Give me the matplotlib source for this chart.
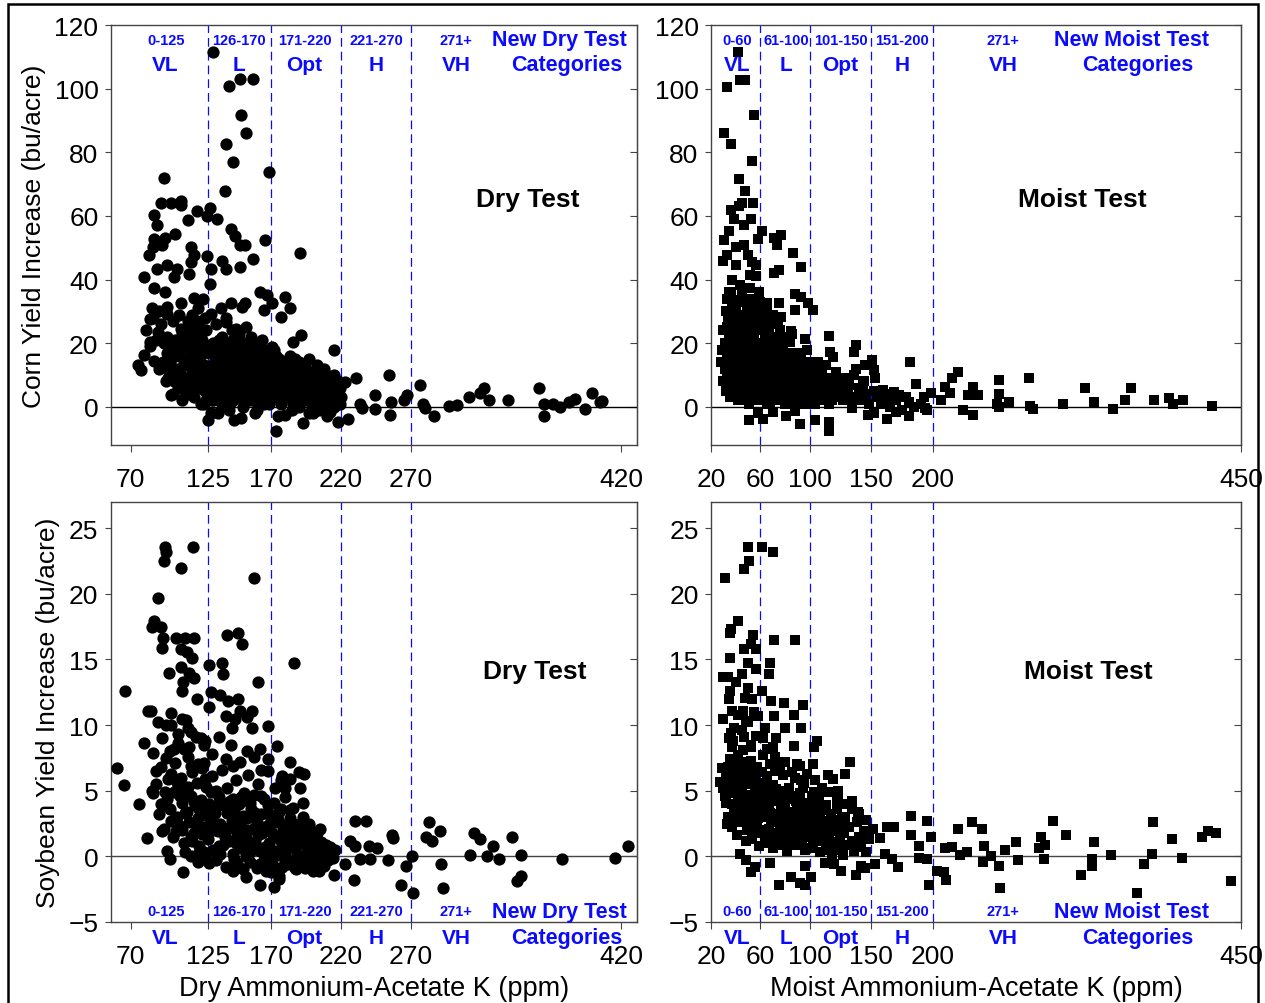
import matplotlib
matplotlib.use("Agg")
import matplotlib.pyplot as plt
import matplotlib.patches as mpatches

plt.rcParams['font.family'] = ['Liberation Sans', 'DejaVu Sans']

# ---- data: (soil K ppm, yield increase bu/acre) ----
dry_corn = [
    (129, 111.4), (140, 100.7), (148, 103), (157, 103), (149, 91.7), (152, 86), (138, 82.5),
    (143, 77), (168.6, 73.7), (137, 67.9), (94, 71.8), (92, 64.1), (99, 64.1), (105.7, 64.7),
    (106, 63.3), (86.5, 60.4), (111, 58.6), (117, 61.5), (126.5, 62.4), (124.5, 60.1),
    (131.5, 58.9), (101.6, 54.3), (88.8, 57), (87, 52.8), (94.4, 53), (92.3, 50.7), (86, 50.2),
    (141.6, 56), (144.5, 53.7), (148, 50.7), (151.8, 50.9), (166, 52.4), (190.6, 48.4),
    (157, 46.5), (83.3, 47.8), (113.3, 50.2), (115.5, 47.8), (113.3, 45.5), (124.8, 47.3),
    (79.9, 40.7), (88.6, 43.4), (95.8, 44.5), (103, 43.4), (101, 40.7), (112, 41.7),
    (126.5, 38.6), (127.6, 43.4), (134.9, 45.9), (138, 43.4), (148, 43.8), (87, 37.3),
    (94.4, 36.1), (85.5, 30.9), (95.8, 31.4), (106, 32.7), (115.5, 34.2), (121.3, 33.8),
    (118.3, 30.9), (134.4, 30.9), (141.6, 32.7), (149.7, 31.4), (151.8, 32.7), (162.5, 36.1),
    (167, 35), (164.8, 30.3), (171, 32.7), (180, 34.5), (183.6, 30.9), (177, 28.2), (84, 27.7),
    (95.8, 29.3), (104.5, 28.8), (127.6, 29.3), (89.4, 23.5), (84, 20.4), (106, 24.6),
    (117, 26.2), (119, 20.4), (138, 26.7), (145, 24.6), (191.5, 22.5), (186, 20.4), (171, 18.8),
    (215.3, 17.9), (79.9, 16.4), (75.5, 13.1), (77.5, 11.5), (87, 14.3), (97.3, 15.2),
    (96.7, 8.9), (99, 3.7), (106.5, 2.1), (120.4, 1), (125.4, -4.2), (132.6, -2.1),
    (143.6, -4.2), (148.6, -3.5), (158.7, -2.1), (174, -7.6), (180, -2.6), (193, -5.2),
    (197.3, -2.1), (204.5, -1), (212.4, -1.6), (217.6, -4.7), (222.8, 7.8), (224.8, -3.7),
    (230.6, 8.9), (233.5, 1), (235, -0.5), (244.3, 3.7), (244.3, -0.7), (254.4, 9.9),
    (255.9, 1.6), (255.3, -2.6), (264.8, 2.1), (266.9, 3.7), (276.4, 6.8), (278.5, 1),
    (280, -0.5), (286.6, -2.8), (296.7, 0.3), (302.8, 0.5), (311, 3), (319, 4.2), (322, 5.8),
    (325.4, 2.1), (338.8, 2.1), (361, 5.8), (364.8, 1), (364.8, -2.8), (371.2, 1), (376.4, 0),
    (382.9, 1.4), (387.2, 2.3), (393.9, -0.7), (398.8, 4.2), (406, 1.8), (404.6, 1.4),
    (98, 9), (101, 8), (103, 12), (104, 6), (106, 10), (108, 14), (109, 5), (110, 19), (111, 22),
    (112, 8), (113, 25), (114, 12), (115, 3), (116, 18), (117, 27), (118, 10), (119, 15),
    (120, 6), (121, 21), (122, 13), (123, 9), (124, 24), (124, 2), (126, 17), (127, 11),
    (128, 5), (129, 20), (130, 14), (130, 8), (131, 26), (132, 3), (133, 12), (134, 18),
    (135, 7), (135, 22), (136, 10), (137, 15), (138, 4), (138, 28), (139, 9), (140, 13),
    (140, 19), (141, 6), (142, 11), (142, 24), (143, 2), (144, 16), (144, 8), (145, 21),
    (146, 12), (146, 5), (147, 18), (148, 10), (148, 14), (149, 3), (150, 7), (150, 20),
    (151, 16), (152, 11), (152, 25), (153, 6), (154, 13), (154, 9), (155, 18), (156, 4),
    (156, 22), (157, 12), (158, 8), (158, 15), (159, 19), (160, 6), (160, 10), (161, 14),
    (162, 3), (162, 17), (163, 11), (164, 7), (164, 21), (165, 13), (166, 9), (166, 5),
    (167, 16), (168, 12), (168, 2), (169, 8), (170, 14), (171, 6), (172, 10), (172, 18),
    (173, 3), (174, 12), (175, 7), (176, 15), (177, 1), (178, 9), (179, 5), (180, 11),
    (181, 13), (182, 3), (183, 7), (184, 16), (185, 9), (186, 1), (187, 12), (188, 5),
    (189, 8), (190, 14), (191, 3), (192, 10), (193, 6), (194, 2), (195, 12), (196, 8),
    (197, 4), (198, 10), (199, 1), (200, 6), (201, 11), (202, 3), (203, 8), (204, 0),
    (205, 5), (206, 9), (207, 2), (208, 12), (209, 6), (210, 1), (211, 4), (212, 9), (213, 3),
    (214, 7), (215, 0), (216, 5), (217, 2), (218, 8), (219, 1), (220, 3),
    (92, 26), (94, 20), (96, 17), (97, 12), (99, 19), (100, 4), (102, 16), (105, 7), (107, 23),
    (110, 13), (112, 4), (114, 29), (116, 9), (118, 23), (120, 17), (122, 1), (100, 27),
    (95, 8), (90, 12), (93, 14), (88, 21), (86, 28), (90, 30), (84, 19), (81, 24),
    (127, -2), (135, 1), (140, -1), (150, 0), (155, 2), (160, -1), (165, 1), (175, -3),
    (185, -1), (190, 0), (200, -2), (210, -3), (128, 2), (133, 6), (139, 2), (145, 9),
    (151, 4), (157, 7), (163, 2), (169, 4), (176, 10), (182, 8), (188, 2), (194, 9),
    (126, 7), (128, 13), (129, 2), (131, 17), (132, 9), (133, 21), (134, 4), (136, 14),
    (137, 6), (138, 19), (139, 12), (141, 1), (141, 16), (143, 9), (143, 21), (145, 4),
    (145, 14), (147, 7), (147, 23), (149, 12), (149, 17), (151, 2), (151, 9), (153, 15),
    (153, 20), (155, 7), (155, 11), (157, 2), (157, 17), (159, 10), (159, 14), (161, 6),
    (161, 20), (163, 8), (163, 15), (165, 3), (165, 18), (167, 11), (167, 6), (169, 17),
    (169, 1), (171, 12), (173, 8), (174, 16), (176, 4), (177, 11), (179, 14), (181, 6),
    (183, 10), (185, 4), (187, 15), (189, 2), (191, 11), (193, 9), (195, 4), (197, 15),
    (199, 7), (201, 2), (203, 13), (205, 1), (207, 7), (209, 10), (211, 6), (213, 0),
    (215, 10), (217, 4), (219, 6), (96, 22), (98, 14), (100, 10), (102, 21), (104, 18),
    (106, 16), (108, 8), (108, 20), (110, 9), (111, 27), (112, 15), (113, 18), (115, 21),
    (116, 6), (117, 14), (119, 11), (119, 25), (121, 9), (122, 17), (123, 5), (123, 28),
    (125, 19), (125, 11),
]

moist_corn = [
    (41.9, 111.4), (32.6, 100.6), (43.5, 102.8), (47.5, 102.8), (54.8, 91.7), (30.6, 86),
    (35.9, 82.5), (53.5, 77.1), (42.5, 71.7), (47.8, 67.7), (36.2, 62), (42.9, 63.1),
    (45.2, 64.1), (54.1, 63.9), (38.5, 59.1), (46.8, 57.2), (52.5, 59.1), (34.2, 55.2),
    (30.9, 52.3), (40.2, 50.2), (46.8, 50.7), (57.8, 52.8), (61.7, 55.4), (70.7, 53),
    (76.6, 54.1), (73.3, 50.7), (86.6, 48.4), (29.6, 45.7), (32.9, 47.6), (40.2, 44.5),
    (49.9, 47.6), (53.2, 45.5), (56.5, 44.5), (71.4, 42), (74.8, 42.9), (93.2, 43.8),
    (51.8, 41.3), (56.5, 41.1), (43.5, 38.2), (51.8, 37.3), (34.6, 36.1), (58.8, 36.1),
    (32.6, 34), (41.9, 33.5), (88.2, 35.4), (93.2, 34.5), (38.5, 31.4), (65, 32.7),
    (75.3, 32.7), (98.8, 32.7), (103.1, 30.5), (88.2, 30.5), (65, 30.3), (76.6, 28.2),
    (35.2, 25.1), (84.9, 23.7), (34.6, 20.9), (115.4, 22.3), (95.9, 21.4), (84.3, 20.4),
    (137.9, 19.4), (135.6, 17.3), (32.6, 13.1), (37.6, 17.3), (116.4, 17.3), (119, 15.7),
    (150.8, 14.6), (181, 14.1), (145.2, 13.1), (137.3, 12), (151.8, 11.5), (105.5, 12.6),
    (186, 7.3), (142.9, 7.3), (152.8, 8.9), (159.4, 5.2), (168.7, 4.5), (172.7, 3.7),
    (162.8, 2.6), (180.3, 1.6), (192.6, 3.1), (198.5, 4.2), (206.5, 2.1), (215.8, 8.9),
    (220, 11), (213.8, 4.2), (209.8, 6.3), (228.3, 3.7), (232.3, 6.3), (236.6, 3.7),
    (224.7, -1), (232.3, -2.6), (253.2, 8.4), (253.2, 3.9), (252.2, 1), (253.9, -0.2),
    (261.5, 1.6), (277.7, 8.9), (278.7, 0.3), (281.4, -0.8), (305.2, 1), (323.4, 5.8),
    (331, 1.6), (345.9, -0.8), (355.5, 2), (360.8, 5.8), (379.1, 2.1), (391.3, 2.8),
    (394.6, 1), (402.9, 2), (426.4, 0.3), (50.5, -4.2), (62.4, -3.9), (57.8, -2.1),
    (70, -1.6), (80.9, -2.8), (92.2, -5.5), (88.2, -1.4), (104.1, -4.2), (115.4, -4.7),
    (115.4, -7.6), (115.7, 1), (134.6, -0.3), (147.2, -2.6), (151.8, -2.1), (162.4, -3.7),
    (170, -1.6), (180.6, -2.8), (193.2, -0.5),
    (28, 14), (30, 8), (31, 20), (32, 5), (33, 25), (34, 11), (35, 17), (35, 3), (36, 28),
    (37, 9), (38, 14), (38, 22), (39, 6), (40, 18), (40, 31), (41, 12), (42, 2), (42, 24),
    (43, 16), (44, 8), (44, 27), (45, 13), (46, 20), (46, 4), (47, 10), (48, 17), (48, 29),
    (49, 7), (50, 23), (50, 13), (51, 1), (52, 19), (52, 9), (53, 26), (54, 15), (54, 5),
    (55, 21), (56, 11), (56, 30), (57, 7), (58, 17), (58, 24), (59, 3), (60, 13), (60, 20),
    (61, 9), (62, 27), (62, 16), (63, 5), (64, 22), (64, 11), (65, 1), (66, 18), (66, 8),
    (67, 25), (68, 14), (68, 4), (69, 20), (70, 10), (70, 29), (71, 15), (72, 6), (72, 22),
    (73, 12), (74, 2), (74, 18), (75, 8), (76, 14), (76, 24), (77, 4), (78, 11), (78, 19),
    (79, 7), (80, 15), (80, 1), (81, 10), (82, 21), (82, 5), (83, 13), (84, 8), (84, 17),
    (85, 3), (86, 11), (86, 23), (87, 6), (88, 14), (88, 0), (89, 9), (90, 4), (90, 17),
    (91, 12), (92, 2), (92, 8), (93, 15), (94, 5), (95, 10), (96, 1), (96, 13), (97, 7),
    (98, 18), (99, 3), (100, 9), (100, 14), (102, 5), (103, 11), (104, 1), (105, 7), (106, 3),
    (107, 14), (108, 9), (109, 5), (110, 11), (111, 2), (112, 7), (113, 13), (114, 4),
    (116, 9), (118, 2), (119, 6), (121, 11), (122, 3), (124, 8), (126, 5), (127, 2), (129, 9),
    (131, 4), (132, 7), (134, 1), (136, 10), (138, 3), (140, 6), (142, 2), (144, 8), (146, 4),
    (148, 1), (152, 5), (155, 3), (158, 1), (160, 4), (165, 0), (170, 2), (175, -1), (178, 3),
    (185, 0), (190, 1), (195, -1), (45, 35), (49, 32), (55, 27), (60, 33), (66, 24), (37, 40),
    (29, 18), (31, 12), (33, 16), (34, 28), (36, 21), (36, 7), (37, 33), (38, 4), (39, 17),
    (39, 26), (41, 9), (41, 20), (43, 5), (43, 29), (44, 18), (45, 2), (45, 24), (47, 15),
    (47, 34), (48, 5), (49, 21), (49, 12), (50, 30), (51, 8), (51, 17), (53, 3), (53, 14),
    (54, 22), (55, 10), (55, 31), (57, 18), (57, 2), (58, 12), (59, 27), (59, 8), (60, 3),
    (61, 16), (61, 24), (63, 10), (63, 19), (64, 29), (65, 6), (65, 15), (67, 10), (67, 20),
    (68, 1), (69, 13), (69, 26), (71, 4), (71, 19), (73, 8), (73, 16), (75, 3), (75, 12),
    (76, 20), (78, 7), (79, 16), (81, 3), (82, 13), (83, 9), (85, 15), (87, 10), (89, 3),
    (91, 6), (93, 11), (95, 3), (97, 12), (99, 6), (101, 10), (103, 4),
    (30, 24), (32, 30), (33, 9), (34, 19), (35, 13), (36, 36), (37, 24), (38, 10), (39, 30),
    (40, 4), (40, 24), (41, 16), (42, 33), (42, 8), (43, 21), (44, 13), (45, 29), (45, 7),
    (46, 16), (47, 25), (48, 11), (49, 3), (50, 18), (51, 27), (52, 13), (52, 34), (53, 7),
    (54, 19), (55, 4), (56, 16), (56, 25), (57, 12), (58, 31), (59, 20), (60, 9), (61, 29),
    (62, 4), (63, 14), (64, 25), (65, 10), (66, 28), (67, 15), (68, 22), (70, 6), (72, 13),
    (74, 26), (76, 9), (78, 22), (80, 6), (84, 12),
]

dry_soy = [
    (60.4, 6.7), (65.4, 5.4), (66.2, 12.6), (76.1, 4), (79.9, 8.6), (81.9, 1.4), (82.2, 11.1),
    (84.8, 11.1), (85.1, 17.5), (86.5, 17.9), (89.4, 19.7), (91.5, 17.5), (92.3, 15.9),
    (92.9, 16.6), (94.4, 23.6), (95, 23.2), (93.8, 22.5), (105.9, 22), (114.7, 23.6),
    (102.2, 16.6), (108.9, 16.6), (115.5, 16.6), (105.9, 15.8), (110.3, 15.6), (114, 15.1),
    (97.3, 14), (105.9, 14.4), (111.7, 14), (115.5, 13.6), (107.1, 13.3), (106.8, 12.6),
    (125.7, 14.6), (135.2, 14.7), (136.1, 13.9), (117.5, 12), (126.2, 11.4), (127.6, 12.5),
    (133.5, 12.3), (139.3, 11.8), (137.8, 10.7), (142.1, 9.8), (141.6, 8.5), (139, 16.9),
    (146.8, 17), (149.2, 16.2), (158.1, 21.2), (160.5, 13.3), (186.8, 14.7), (146.5, 12),
    (148, 11.1), (144.5, 10.5), (153.2, 10.6), (156.7, 11.1), (156.7, 9.8), (162.5, 8.2),
    (167.7, 9.9), (174.1, 8.4), (168, 7.4), (183.6, 7.2), (89.4, 10.2), (92.3, 9), (98.7, 10.9),
    (95.3, 10), (98.7, 10), (104, 9.3), (100.8, 8.2), (106.8, 10.5), (109.8, 10.4), (111, 9.8),
    (111.9, 8.3), (119.9, 9), (116.7, 9.1), (122, 8.5), (113.2, 6.9), (122.6, 7.1),
    (85.7, 7.9), (87.8, 6.5), (85.1, 5), (85.7, 4.8), (91.5, 4), (93.9, 3.9), (94.7, 4.9),
    (98.7, 2.7), (102.2, 1.9), (92.3, 1.9), (95.8, 0.4), (97.9, -0.2), (107.4, -1.2),
    (108.9, 0.3), (113.8, 1.2), (113.2, 0), (118.1, 0.2), (123.4, 0), (190, 6.4),
    (193.8, 6.3), (190.9, 5.2), (183.4, 5.9), (177, 5.8), (179.9, 5.2), (192.7, 4.1),
    (183.4, 3.5), (197.3, 2.5), (205.4, 2.1), (208.9, 0.9), (214.7, -1.4), (204.5, -1.1),
    (222.8, -0.6), (226.3, 1.2), (229.7, 2.7), (237.9, 2.7), (230, 0.8), (229.2, -1.8),
    (233.8, -0.2), (240.2, 0.8), (240.8, -0.2), (246, 0.6), (253.8, -0.3), (256.2, 1.6),
    (257, 1.4), (266.3, -0.7), (263.1, -2.2), (270.9, 0), (271.5, -2.8), (280.5, 1.5),
    (282.8, 2.6), (284.9, 1.2), (290.6, 1.9), (291.5, -0.6), (293, -2.4), (311.8, 0.1),
    (314.7, 1.8), (319.1, 1.3), (324.3, 0), (328.3, 0.8), (333, -0.2), (341.7, 1.5),
    (345.2, -1.9), (348.6, -1.5), (348, 0.1), (377.9, -0.2), (415.3, -0.1), (424.3, 0.8),
    (152.3, -1.6), (162.5, -2.2), (166.8, -1.1), (172.6, -2.3), (175.5, -1.7), (143.1, -1.1),
    (88, 5.5), (90, 3.2), (92, 6.8), (94, 2.1), (95, 7.5), (96, 4.4), (97, 5.9), (98, 3.6),
    (99, 6.3), (100, 1.5), (101, 4.9), (102, 7.1), (103, 3.0), (104, 5.4), (105, 2.3),
    (106, 6.0), (107, 4.1), (108, 1.0), (109, 5.1), (110, 3.4), (111, 7.6), (112, 2.6),
    (113, 4.6), (114, 6.4), (115, 1.8), (116, 3.9), (117, 5.6), (118, 2.9), (119, 0.8),
    (120, 4.3), (121, 6.7), (122, 2.2), (123, 3.7), (124, 5.3), (125, 1.3), (126, 4.0),
    (127, 2.8), (128, 6.1), (129, 0.5), (130, 3.3), (131, 5.0), (132, 1.9), (133, 4.5),
    (134, 2.5), (135, 6.6), (136, 0.9), (137, 3.8), (138, 2.0), (139, 5.2), (140, 1.2),
    (141, 4.2), (142, 2.7), (143, 0.2), (144, 3.5), (145, 5.8), (146, 1.6), (147, 4.0),
    (148, 2.4), (149, 0.6), (150, 3.1), (151, 4.8), (152, 1.4), (153, 2.9), (154, 6.2),
    (155, 0.3), (156, 3.6), (157, 2.1), (158, 4.7), (159, 1.1), (160, 2.6), (161, 5.5),
    (162, 0.4), (163, 3.2), (164, 1.8), (165, 4.4), (166, 0.7), (167, 2.3), (168, 3.9),
    (169, 1.0), (170, 2.8), (171, -0.6), (172, 4.1), (173, 1.5), (174, 2.6), (175, 0.1),
    (176, 3.4), (177, 1.2), (178, -0.8), (179, 2.0), (180, 4.5), (181, 0.5), (182, 1.7),
    (183, -0.3), (184, 2.9), (185, 0.9), (186, 3.7), (187, -0.9), (188, 1.9), (189, 0.2),
    (190, 2.5), (191, -0.5), (192, 1.3), (193, 3.0), (194, 0.0), (195, 1.6), (196, -0.7),
    (197, 2.2), (198, 0.6), (199, -0.2), (200, 1.4), (201, 0.3), (202, -0.9), (203, 1.8),
    (204, 0.4), (205, -0.4), (206, 1.1), (207, 0.0), (208, -0.7), (209, 0.9), (210, 0.2),
    (211, -0.3), (212, 0.7), (214, -0.1), (216, 0.5), (126, -0.5), (131, -0.3), (138, -0.8),
    (144, -0.2), (150, -1.0), (155, -0.4), (160, -0.9), (165, -0.3), (170, -1.2), (176, -1.5),
    (182, -0.6), (188, -1.0), (194, -0.9), (200, -1.1), (108, 8.2), (113, 9.5), (118, 7.0),
    (123, 8.8), (128, 7.8), (133, 9.1), (138, 7.4), (143, 6.9), (148, 7.2), (153, 8.0),
    (158, 7.6), (163, 6.6), (168, 6.5), (173, 5.2), (178, 6.1), (98, 8.0), (104, 8.6),
    (101, 2.8), (103, 5.7), (105, 4.6), (107, 2.0), (109, 3.3), (111, 5.3), (113, 1.5),
    (115, 4.2), (117, 2.3), (119, 3.6), (121, 1.7), (123, 5.9), (125, 3.1), (127, 4.9),
    (129, 2.0), (131, 3.8), (133, 0.8), (135, 4.1), (137, 1.5), (139, 3.3), (141, 2.2),
    (143, 4.4), (145, 1.0), (147, 2.9), (149, 4.5), (151, 0.9), (153, 2.0), (155, 4.1),
    (157, 0.7), (159, 3.3), (161, 1.6), (163, 4.6), (165, 2.0), (167, 0.2), (169, 3.2),
    (171, 1.8), (173, 0.4), (175, 2.8), (177, 3.6), (179, 0.6), (181, 2.4), (183, 1.2),
    (185, 2.2), (187, 0.8), (189, 1.4), (191, 2.0), (193, -0.3), (195, 0.8), (197, 1.2),
    (199, 0.6), (201, -0.6), (203, 0.2), (118, -0.4), (122, 0.3), (134, 0.2), (146, -0.5),
    (152, 0.0), (162, -0.6), (168, -0.1), (174, -0.9), (180, -0.2), (186, -0.4), (192, -0.2),
    (198, -0.6),
]

moist_soy = [
    (31.3, 21.2), (50.1, 23.6), (51.1, 22.5), (46.8, 21.9), (61.7, 23.6), (70, 23.2),
    (41.9, 17.9), (36.2, 17.3), (35.2, 17), (54.1, 16.9), (70.7, 16.5), (88.2, 16.5),
    (46.8, 15.8), (52.8, 16.2), (56.8, 15.8), (35.2, 15.1), (50.1, 14.7), (67.7, 14.7),
    (66.7, 13.9), (56.8, 14.3), (29.3, 13.7), (33.6, 13.7), (45.2, 13.9), (40.2, 13.3),
    (35.2, 12.6), (34.6, 12), (50.1, 12.8), (61.7, 12.6), (47.5, 12.1), (53.2, 12),
    (68.3, 11.8), (79.3, 11.7), (94.9, 11.5), (29.6, 10.5), (36.9, 11.1), (46.2, 11.1),
    (57.8, 10.7), (70.7, 10.7), (87.2, 10.8), (38.5, 9.8), (50.1, 10.2), (63.4, 9.8), (80, 9.8),
    (93.2, 9.8), (34.9, 9), (46.8, 9.1), (56.1, 9.2), (72.7, 9), (106.1, 8.8), (103.8, 8.3),
    (36.9, 8.3), (52.8, 8.3), (70, 8.3), (86.9, 8.4), (41.6, 7.7), (28.6, 6.7), (33.6, 6.8),
    (27, 5.7), (133, 7.2), (103.1, 7), (89.9, 7), (114.7, 6.2), (119, 5.9), (128.6, 6.3),
    (123, 5), (134.6, 4.2), (139.3, 3.4), (123, 4.2), (103.4, 4.9), (107.4, 4.5), (93.2, 5.8),
    (94.9, 5.2), (43.5, 0.2), (48.4, -0.3), (52.8, -1.2), (55.8, -0.8), (67.7, -0.5),
    (75, -2.2), (84.9, -1.6), (92.5, -2), (96.5, -2.2), (95.9, -0.7), (100.8, -1.6),
    (112.4, -0.5), (120, -0.6), (125.6, -1.1), (137.6, -1.4), (141.9, -0.7), (145.2, -0.9),
    (152.8, -0.6), (171.8, -0.8), (151.2, 2.1), (162.8, 2.2), (168.7, 2.2), (157.2, 1.4),
    (161.5, 0.2), (166.4, -0.2), (182.3, 3.1), (182.3, 1.6), (188.9, 0.8), (195.5, 2.7),
    (198.8, 1.5), (197.2, -2.2), (188.9, -0.1), (195.5, -0.2), (203.2, -1.1), (209.1, -1.2),
    (210.8, -1.8), (209.8, 0.6), (215.8, 0.7), (220.7, 2.1), (221.7, 0.1), (227.4, 0.3),
    (231.7, 2.6), (239.6, 2.1), (241.6, 0.8), (240.6, -0.4), (247.2, 0), (253.9, -0.7),
    (254.6, -2.4), (258.8, 0.5), (267.1, 1.1), (268.8, -0.3), (286.3, 0.6), (287.9, 1.5),
    (291.2, 0.9), (290.2, -0.2), (297.8, 2.7), (307.8, 1.6), (320.1, -1.4), (329, -0.2),
    (329.4, -0.7), (331, 1.1), (344.3, 0.1), (365.8, -2.8), (371.5, -0.6), (378.7, 2.6),
    (378.1, 0.2), (394, 1.3), (401.9, -0.1), (417.9, 1.5), (422.9, 1.9), (429.4, 1.8),
    (441.7, -1.9),
    (30, 5.2), (32, 4.1), (33, 6.6), (34, 3.0), (35, 7.4), (36, 4.8), (37, 2.2), (38, 5.9),
    (39, 3.5), (40, 7.0), (41, 1.6), (42, 4.4), (43, 6.2), (44, 2.7), (45, 5.3), (46, 8.1),
    (47, 3.8), (48, 1.2), (49, 6.0), (50, 4.2), (51, 2.5), (52, 7.3), (53, 3.3), (54, 5.6),
    (55, 1.9), (56, 4.7), (57, 6.8), (58, 2.9), (59, 0.8), (60, 5.1), (61, 3.6), (62, 7.7),
    (63, 2.0), (64, 4.3), (65, 6.1), (66, 1.4), (67, 3.9), (68, 5.4), (69, 2.6), (70, 0.6),
    (71, 4.6), (72, 6.5), (73, 3.1), (74, 1.7), (75, 5.0), (76, 2.3), (77, 3.7), (78, 6.2),
    (79, 1.1), (80, 4.0), (81, 2.8), (82, 0.4), (83, 5.2), (84, 3.4), (85, 1.9), (86, 4.5),
    (87, 2.4), (88, 6.0), (89, 0.9), (90, 3.6), (91, 2.0), (92, 4.8), (93, 1.3), (94, 3.1),
    (95, 5.6), (96, 0.5), (97, 2.7), (98, 4.1), (99, 1.5), (100, 3.3), (101, 2.2), (102, 4.6),
    (103, 0.7), (104, 3.8), (105, 1.6), (106, 2.9), (107, 4.3), (108, 0.3), (109, 2.4),
    (110, 3.5), (111, 1.2), (112, 2.0), (113, 3.9), (114, 0.8), (115, 2.6), (116, 1.5),
    (117, 3.2), (118, 0.2), (119, 1.9), (120, 2.8), (121, 1.0), (122, 3.6), (123, 0.6),
    (124, 2.3), (125, 1.4), (126, 2.9), (127, 0.1), (128, 1.8), (129, 3.0), (130, 0.9),
    (132, 2.2), (134, 1.2), (136, 0.4), (138, 2.6), (140, 1.5), (142, 0.7), (144, 1.9),
    (146, 0.3), (148, 1.3), (38, 8.8), (45, 9.6), (52, 8.5), (58, 9.2), (65, 8.2), (72, 7.6),
    (80, 7.2), (48, 10.3), (55, 11.0), (62, 9.0), (42, 10.8), (36, 9.4), (68, 7.0), (76, 6.8),
    (86, 6.4), (92, 6.9), (98, 6.3), (104, 5.8), (110, 5.2), (116, 4.9), (122, 4.4), (128, 4.0),
    (134, 3.6), (140, 3.2), (146, 2.8),
    (31, 4.6), (33, 2.5), (35, 5.9), (37, 4.0), (39, 6.4), (41, 3.3), (43, 5.0), (44, 7.2),
    (46, 3.1), (47, 5.5), (49, 2.0), (50, 7.0), (52, 4.7), (53, 1.3), (54, 3.9), (56, 6.1),
    (57, 2.2), (59, 4.4), (60, 1.8), (61, 6.4), (63, 3.5), (64, 1.0), (66, 5.0), (67, 2.1),
    (69, 4.2), (70, 2.8), (72, 1.2), (73, 5.1), (75, 3.2), (76, 0.9), (78, 4.3), (79, 2.4),
    (81, 5.0), (82, 1.6), (84, 2.5), (85, 4.4), (87, 0.9), (88, 3.2), (90, 1.6), (91, 4.5),
    (93, 2.6), (94, 0.9), (96, 3.8), (97, 1.8), (99, 2.9), (100, 0.6), (102, 3.0), (103, 1.9),
    (105, 4.0), (106, 1.2), (108, 3.1), (109, 1.6), (111, 2.7), (113, 0.5), (115, 1.7),
    (117, 1.1), (119, 2.5), (121, 0.5), (123, 2.0), (125, 0.7),
    (32, 6.1), (34, 5.1), (36, 6.9), (38, 3.0), (40, 5.4), (42, 2.6), (44, 4.6), (45, 3.8),
    (47, 6.6), (48, 4.4), (50, 3.2), (51, 5.5), (53, 6.4), (55, 3.0), (56, 5.3), (58, 4.0),
    (60, 3.0), (62, 5.6), (63, 4.5), (65, 3.0), (67, 4.6), (68, 3.3), (70, 5.4), (71, 1.8),
    (73, 4.2), (74, 3.0), (77, 4.9), (79, 3.6), (82, 3.2), (84, 4.6), (86, 2.9), (89, 4.2),
    (92, 3.5), (95, 2.3), (98, 3.4),
]

dry_cuts = [125, 170, 220, 270]
moist_cuts = [60, 100, 150, 200]
dry_xticks = [70, 125, 170, 220, 270, 420]
moist_xticks = [20, 60, 100, 150, 200, 450]
corn_yticks = [0, 20, 40, 60, 80, 100, 120]
soy_yticks = [-5, 0, 5, 10, 15, 20, 25]

dry_ranges = ['0-125', '126-170', '171-220', '221-270', '271+']
moist_ranges = ['0-60', '61-100', '101-150', '151-200', '271+']
classes = ['VL', 'L', 'Opt', 'H', 'VH']
dry_label_x = [95, 147, 194, 245, 302]
moist_label_x = [41, 81, 125, 175, 257]

blue = '#0a0aff'
narrow = ['Liberation Sans Narrow', 'Liberation Sans', 'DejaVu Sans']

fig = plt.figure(figsize=(12.65, 10.04), dpi=100)
fig.patches.append(mpatches.Rectangle((0.0063, -0.01), 0.988, 1.0053, transform=fig.transFigure,
                                      fill=False, edgecolor='black', linewidth=1.8))

panels = [
    # rect, data, marker, xlim, ylim, xticks, yticks, cuts, ranges, label_x, test name
    ([0.0877, 0.5558, 0.4158, 0.4183], dry_corn, 'o', (56, 431), (-12, 120), dry_xticks,
     corn_yticks, dry_cuts, dry_ranges, dry_label_x, 'Dry'),
    ([0.5621, 0.5558, 0.4190, 0.4183], moist_corn, 's', (20, 450), (-12, 120), moist_xticks,
     corn_yticks, moist_cuts, moist_ranges, moist_label_x, 'Moist'),
    ([0.0877, 0.0807, 0.4158, 0.4183], dry_soy, 'o', (56, 431), (-5, 27), dry_xticks,
     soy_yticks, dry_cuts, dry_ranges, dry_label_x, 'Dry'),
    ([0.5621, 0.0807, 0.4190, 0.4183], moist_soy, 's', (20, 450), (-5, 27), moist_xticks,
     soy_yticks, moist_cuts, moist_ranges, moist_label_x, 'Moist'),
]

for i, (rect, pts, mk, xl, yl, xt, yt, cuts, ranges, lx, name) in enumerate(panels):
    ax = fig.add_axes(rect)
    xs = [p[0] for p in pts]
    ys = [p[1] for p in pts]
    if mk == 'o':
        ax.scatter(xs, ys, s=78, marker='o', color='black', linewidths=0, zorder=3)
    else:
        ax.scatter(xs, ys, s=50, marker='s', color='black', linewidths=0, zorder=3)
    ax.axhline(0, color='black' if i < 2 else '#444444', lw=1.0, zorder=2)
    for c in cuts:
        ax.axvline(c, color=blue, lw=0.9, dashes=(7, 4), zorder=2)
    ax.set_xlim(*xl)
    ax.set_ylim(*yl)
    ax.set_xticks(xt)
    ax.set_yticks(yt)
    ax.tick_params(axis='x', direction='out', length=5, pad=11, labelsize=19, color='#444444')
    ax.tick_params(axis='y', direction='out', length=4, pad=5, labelsize=19, color='#444444')
    sec = ax.secondary_yaxis('right')
    sec.set_yticks(yt)
    sec.tick_params(direction='in', length=5, labelright=False, color='#444444')
    sec.spines['right'].set_color('#444444')
    for sp in ax.spines.values():
        sp.set_color('#444444')
        sp.set_linewidth(1.0)

    top = i < 2
    if top:
        y_small, y_big = 115.3, 107.6
    else:
        y_small, y_big = -4.2, -6.2
    for r, c, x in zip(ranges, classes, lx):
        ax.text(x, y_small, r, color=blue, fontsize=10.5, fontweight='bold', family=narrow,
                ha='center', va='center')
        ax.text(x, y_big, c, color=blue, fontsize=15, fontweight='bold',
                ha='center', va='center', clip_on=False)
    hx = 376 if name == 'Dry' else 361
    ax.text(hx, y_small, 'New %s Test' % name, color=blue, fontsize=15.5, fontweight='bold',
            ha='center', va='center')
    ax.text(hx + 5, y_big, 'Categories', color=blue, fontsize=15.5, fontweight='bold',
            ha='center', va='center', clip_on=False)

    tx = 353 if name == 'Dry' else 321
    if not top:
        tx += 5
    ty = 65.3 if top else 14.1
    ax.text(tx, ty, '%s Test' % name, fontsize=19, fontweight='bold', ha='center', va='center')

    if i == 0:
        ax.set_ylabel('Corn Yield Increase (bu/acre)', fontsize=19, labelpad=6)
    if i == 2:
        ax.set_ylabel('Soybean Yield Increase (bu/acre)', fontsize=19, labelpad=6)
        ax.set_xlabel('Dry Ammonium-Acetate K (ppm)', fontsize=19.5, labelpad=5)
    if i == 3:
        ax.set_xlabel('Moist Ammonium-Acetate K (ppm)', fontsize=19.5, labelpad=5)

fig.savefig('out.png', dpi=100)
